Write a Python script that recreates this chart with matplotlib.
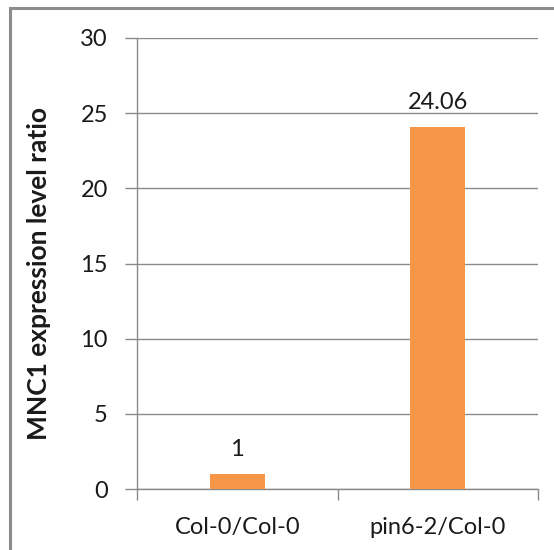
import matplotlib
matplotlib.use('Agg')
from matplotlib import pyplot as plt
from matplotlib.patches import Rectangle

categories = ['Col-0/Col-0', 'pin6-2/Col-0']
ratios = [1, 24.06]
value_labels = ['1', '24.06']
yticks = [0, 5, 10, 15, 20, 25, 30]

plt.rcParams['font.family'] = ['Lato', 'DejaVu Sans']

W, H = 554, 550
fig = plt.figure(figsize=(W / 100, H / 100), dpi=100)

# outer frame of the chart area (only top and left edges are visible)
fig.patches.append(Rectangle((10 / W, -0.1), 1.2, (H - 8) / H + 0.1,
                             transform=fig.transFigure, fill=False,
                             edgecolor='#8c8c8c', linewidth=2.2))

ax = fig.add_axes([137 / W, 61 / H, 401 / W, 451 / H])
gray = '#8a8a8a'
text_col = '#1a1a1a'

x = range(len(categories))
ax.bar(x, ratios, width=0.275, color='#F79646', zorder=3)

for xi, v, lab in zip(x, ratios, value_labels):
  ax.annotate(lab, (xi, v), xytext=(0, 10), textcoords='offset points',
              ha='center', va='bottom', fontsize=17, color=text_col)

ax.set_xlim(-0.5, 1.5)
ax.set_ylim(0, 30)
ax.set_yticks(yticks)
ax.yaxis.grid(True, color=gray, linewidth=1)
ax.set_axisbelow(True)

ax.set_xticks(list(x))
ax.set_xticklabels(categories)
ax.set_xticks([-0.5, 0.5, 1.5], minor=True)
ax.tick_params(axis='x', which='major', length=0, pad=20, labelsize=17, labelcolor=text_col)
ax.tick_params(axis='x', which='minor', length=8, color=gray, width=1)
ax.tick_params(axis='y', length=9, pad=12, color=gray, width=1, labelsize=17, labelcolor=text_col)

for side in ('top', 'right'):
  ax.spines[side].set_visible(False)
for side in ('left', 'bottom'):
  ax.spines[side].set_color(gray)
  ax.spines[side].set_linewidth(1)

ax.set_ylabel('MNC1 expression level ratio', fontsize=19, fontweight='bold', color=text_col)
ax.yaxis.set_label_coords(-0.215, 0.477)

fig.savefig('out.png', dpi=100)
